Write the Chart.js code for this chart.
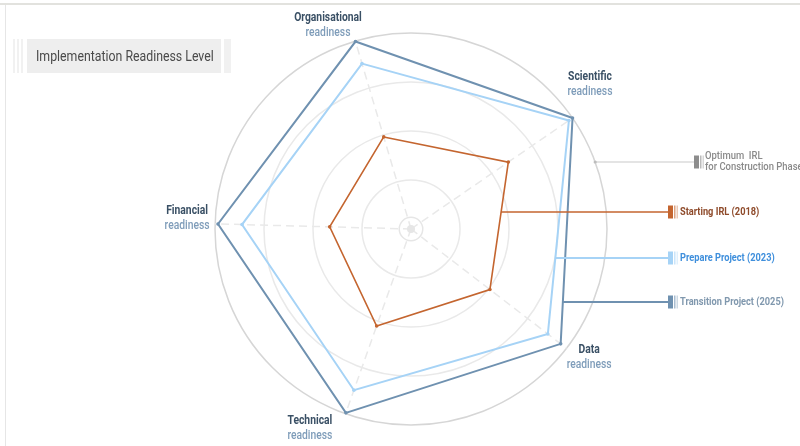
<!DOCTYPE html>
<html><head><meta charset="utf-8">
<script src="https://cdn.jsdelivr.net/npm/chart.js@4"></script>
<style>html,body{margin:0;padding:0;background:#fff;overflow:hidden}#wrap{width:800px;height:446px;position:relative}</style>
</head><body><div id="wrap"><canvas id="c"></canvas></div>
<script>
// ---- data ----
const axisNames = ['Organisational', 'Scientific', 'Data', 'Technical', 'Financial'];
const axisSub = 'readiness';
const startingIRL2018 = [1.96, 2.41, 2.03, 2.10, 1.66];
const prepareProject2023 = [3.52, 3.91, 3.52, 3.49, 3.45];
const transitionProject2025 = [3.99, 4.00, 3.85, 3.98, 3.94];
const optimumIRL = 4;            // outer ring of the scale
const scaleMin = 0, scaleMax = 4, scaleStep = 1;
const seriesNames = ['Starting IRL (2018)', 'Prepare Project (2023)', 'Transition Project (2025)'];
const optimumLabel = ['Optimum  IRL', 'for Construction Phase'];
const titleText = 'Implementation Readiness Level';

// ---- style ----
const seriesColors = ['#c4652f', '#a6d3f6', '#6f91b0'];
const seriesText = ['#8e4a2a', '#3f8fdc', '#8098ae'];
const seriesWidth = [1.6, 2, 2];
const optimumColor = '#c9c9c9';
const labelNudge = [[-20, 9], [-4, -19], [2, -7], [-27, -10], [-2, -5]];
const legendRowY = [162, 212, 258, 302];
const FONT = 'Roboto, "Liberation Sans", sans-serif';

function condensedText(ctx, text, x, y, sx, align) {
  const w = ctx.measureText(text).width * sx;
  let left = x;
  if (align === 'center') left = x - w / 2;
  else if (align === 'right') left = x - w;
  ctx.save();
  ctx.translate(left, y);
  ctx.scale(sx, 1);
  ctx.textAlign = 'left';
  ctx.fillText(text, 0, 0);
  ctx.restore();
}

const decor = {
  id: 'decor',
  beforeDraw(chart) {
    const ctx = chart.ctx;
    ctx.save();
    // frame lines
    ctx.fillStyle = '#e2e2de';
    ctx.fillRect(0, 3, 800, 2);
    ctx.fillStyle = '#e6e6e6';
    ctx.fillRect(5, 5, 1, 441);
    // title box
    ctx.fillStyle = '#eeeeee';
    ctx.fillRect(27, 39, 194, 34);
    ctx.fillStyle = '#f1f1f1';
    [13, 17, 21].forEach(x => ctx.fillRect(x, 39, 2, 34));
    ctx.fillRect(224, 39, 7, 34);
    ctx.fillStyle = '#4a4a4a';
    ctx.font = '14px ' + FONT;
    ctx.textBaseline = 'middle';
    condensedText(ctx, titleText, 36, 57, 0.88, 'left');
    ctx.restore();
  },
  beforeDatasetsDraw(chart) {
    const ctx = chart.ctx, r = chart.scales.r;
    ctx.save();
    ctx.strokeStyle = '#e6e6e6';
    ctx.lineWidth = 1.5;
    ctx.beginPath();
    ctx.arc(r.xCenter, r.yCenter, r.drawingArea * 0.06, 0, Math.PI * 2);
    ctx.stroke();
    ctx.fillStyle = '#e6e6e6';
    ctx.beginPath();
    ctx.arc(r.xCenter, r.yCenter, 4, 0, Math.PI * 2);
    ctx.fill();
    ctx.restore();
  },
  afterDraw(chart) {
    const ctx = chart.ctx, r = chart.scales.r;
    ctx.save();
    // axis labels
    axisNames.forEach((name, i) => {
      const p = r.getPointPosition(i, r.drawingArea + 26);
      const x = p.x + labelNudge[i][0], y = p.y + labelNudge[i][1];
      ctx.textBaseline = 'middle';
      ctx.font = 'bold 12px ' + FONT;
      ctx.fillStyle = '#3a5065';
      condensedText(ctx, name, x, y - 7.5, 0.86, 'center');
      ctx.font = '500 12px ' + FONT;
      ctx.fillStyle = '#7e9cb9';
      condensedText(ctx, axisSub, x, y + 7.5, 0.86, 'center');
    });
    const markerX = 668;
    // optimum leader
    const oy = legendRowY[0];
    const oR = r.getDistanceFromCenterForValue(optimumIRL);
    const ox = r.xCenter + Math.sqrt(oR * oR - (oy - r.yCenter) ** 2);
    ctx.strokeStyle = optimumColor;
    ctx.lineWidth = 1.2;
    ctx.beginPath(); ctx.moveTo(ox, oy); ctx.lineTo(markerX + 26, oy); ctx.stroke();
    ctx.fillStyle = '#bdbdbd';
    ctx.beginPath(); ctx.arc(ox, oy, 1.6, 0, Math.PI * 2); ctx.fill();
    drawMarker(ctx, markerX + 26, oy, '#8d8d8d');
    ctx.fillStyle = '#8a8a8a';
    ctx.font = '500 11px ' + FONT;
    ctx.textBaseline = 'middle';
    condensedText(ctx, optimumLabel[0], markerX + 37, oy - 6, 0.86, 'left');
    condensedText(ctx, optimumLabel[1], markerX + 37, oy + 5.5, 0.86, 'left');
    // series leaders
    seriesNames.forEach((name, k) => {
      const meta = chart.getDatasetMeta(k);
      const a = meta.data[1], b = meta.data[2];
      const y = legendRowY[k + 1];
      const x = a.x + (y - a.y) * (b.x - a.x) / (b.y - a.y);
      ctx.strokeStyle = seriesColors[k];
      ctx.lineWidth = seriesWidth[k];
      ctx.beginPath(); ctx.moveTo(x, y); ctx.lineTo(markerX, y); ctx.stroke();
      drawMarker(ctx, markerX, y, seriesColors[k]);
      ctx.fillStyle = seriesText[k];
      ctx.font = 'bold 11px ' + FONT;
      condensedText(ctx, name, markerX + 12, y + 0.5, 0.84, 'left');
    });
    ctx.restore();
  }
};

function drawMarker(ctx, x, y, color) {
  ctx.save();
  ctx.fillStyle = color;
  ctx.fillRect(x, y - 6.5, 5, 13);
  ctx.globalAlpha = 0.6;
  ctx.fillRect(x + 6, y - 6.5, 1.5, 13);
  ctx.globalAlpha = 0.35;
  ctx.fillRect(x + 8.5, y - 6.5, 1.5, 13);
  ctx.restore();
}

const seriesData = [startingIRL2018, prepareProject2023, transitionProject2025];
new Chart(document.getElementById('c'), {
  type: 'radar',
  data: {
    labels: axisNames.map(n => [n, axisSub]),
    datasets: seriesData.map((d, k) => ({
      label: seriesNames[k],
      data: d,
      borderColor: seriesColors[k],
      backgroundColor: 'transparent',
      borderWidth: seriesWidth[k],
      pointRadius: 1.8,
      pointBackgroundColor: seriesColors[k],
      pointBorderWidth: 0,
      fill: false,
      tension: 0
    }))
  },
  options: {
    responsive: true,
    maintainAspectRatio: false,
    animation: false,
    events: [],
    layout: { padding: { left: 215, right: 193, top: 33, bottom: 21 } },
    plugins: { legend: { display: false }, tooltip: { enabled: false }, title: { display: false } },
    scales: {
      r: {
        min: scaleMin, max: scaleMax,
        startAngle: -16.5,
        ticks: { display: false, stepSize: scaleStep },
        pointLabels: { display: false },
        grid: {
          circular: true,
          color: ctx => ctx.index === 4 ? '#d6d6d6' : '#e9e9e9',
          lineWidth: 1.5
        },
        angleLines: { color: '#e9e9e9', lineWidth: 1.5, borderDash: [8, 5] }
      }
    }
  },
  plugins: [decor]
});
</script>
</body></html>
